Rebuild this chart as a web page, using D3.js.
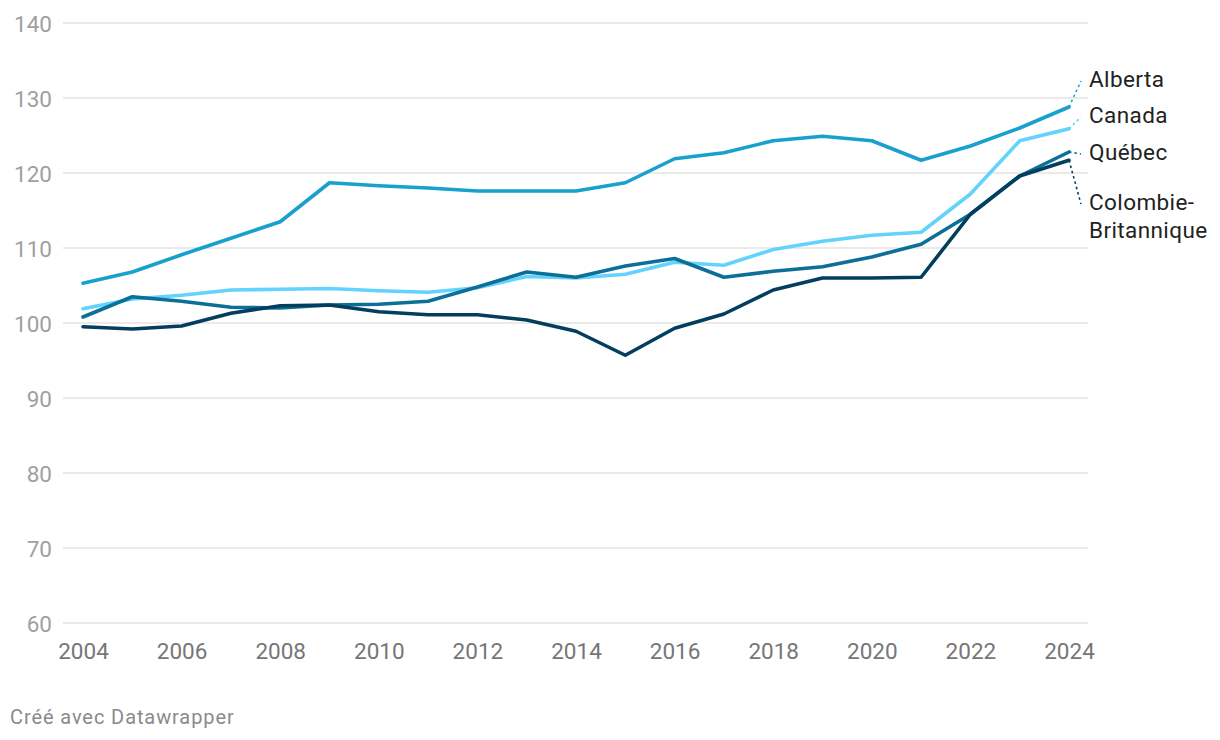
<!DOCTYPE html>
<html lang="fr">
<head>
<meta charset="UTF-8">
<title>Indice</title>
<script src="https://d3js.org/d3.v7.min.js"></script>
<style>
  body { margin: 0; background: #fff; font-family: Roboto, Arial, sans-serif; }
  .grid line { stroke: #e3e3e3; stroke-width: 1.5; }
  .ylab text { fill: #a0a0a0; font-size: 22.5px; }
  .series { fill: none; stroke-width: 3.6; stroke-linejoin: round; stroke-linecap: round; }
  .label { font-size: 22.5px; fill: #222; letter-spacing: 0.4px; }
  .credit { font-size: 20px; fill: #8a8a8a; letter-spacing: 0.9px; }
</style>
</head>
<body>
<svg id="chart" width="1220" height="740"></svg>
<script>
  // Données
  const years = d3.range(2004, 2025);
  const alberta = [105.3, 106.8, 109.1, 111.3, 113.5, 118.7, 118.3, 118.0, 117.6, 117.6, 117.6, 118.7, 121.9, 122.7, 124.3, 124.9, 124.3, 121.7, 123.6, 126.0, 128.8];
  const canada = [101.9, 103.2, 103.7, 104.4, 104.5, 104.6, 104.3, 104.1, 104.7, 106.2, 106.0, 106.5, 108.1, 107.7, 109.8, 110.9, 111.7, 112.1, 117.2, 124.3, 125.9];
  const quebec = [100.8, 103.5, 102.9, 102.1, 102.0, 102.4, 102.5, 102.9, 104.8, 106.8, 106.1, 107.6, 108.6, 106.1, 106.9, 107.5, 108.8, 110.5, 114.5, 119.6, 122.8];
  const cb = [99.5, 99.2, 99.6, 101.3, 102.3, 102.4, 101.5, 101.1, 101.1, 100.4, 98.9, 95.7, 99.3, 101.2, 104.4, 106.0, 106.0, 106.1, 114.5, 119.6, 121.7];
  const yTicks = [60, 70, 80, 90, 100, 110, 120, 130, 140];
  const xTicks = [2004, 2006, 2008, 2010, 2012, 2014, 2016, 2018, 2020, 2022, 2024];

  const series = [
    { name: ["Alberta"], values: alberta, color: "#18a1cd", ly: 87 },
    { name: ["Canada"], values: canada, color: "#63d3fd", ly: 123 },
    { name: ["Québec"], values: quebec, color: "#0b6f98", ly: 160 },
    { name: ["Colombie-", "Britannique"], values: cb, color: "#043e5f", ly: 210 }
  ];

  const svg = d3.select("#chart");
  const x = d3.scaleLinear().domain([2004, 2024]).range([83, 1069]);
  const y = d3.scaleLinear().domain([60, 140]).range([623, 23]);

  // Grille
  svg.append("g").attr("class", "grid")
    .selectAll("line").data(yTicks).join("line")
    .attr("x1", 63).attr("x2", 1088)
    .attr("y1", d => y(d)).attr("y2", d => y(d));

  // Axe Y
  svg.append("g").attr("class", "ylab")
    .selectAll("text").data(yTicks).join("text")
    .attr("x", 52).attr("y", d => y(d) + 8.5)
    .attr("text-anchor", "end")
    .text(d => d);

  // Axe X
  const xAxis = svg.append("g")
    .attr("transform", "translate(0,630)")
    .call(d3.axisBottom(x).tickValues(xTicks).tickFormat(d3.format("d")).tickSize(0).tickPadding(13));
  xAxis.select(".domain").remove();
  xAxis.selectAll("text").attr("fill", "#767676").style("font-size", "22.5px").style("font-family", "Roboto, Arial, sans-serif");

  const line = d3.line().x((d, i) => x(years[i])).y(d => y(d));

  svg.selectAll("path.series").data(series).join("path")
    .attr("class", "series")
    .attr("stroke", d => d.color)
    .attr("d", d => line(d.values));

  // Étiquettes
  series.forEach(s => {
    const last = s.values[s.values.length - 1];
    const ex = x(2024), ey = y(last);
    const tx = 1081, ty = s.ly - 6;
    svg.append("line")
      .attr("x1", ex).attr("y1", ey).attr("x2", tx).attr("y2", ty)
      .attr("stroke", s.color).attr("stroke-width", 1.6)
      .attr("stroke-dasharray", "2.5,3");
    s.name.forEach((n, i) => {
      svg.append("text").attr("class", "label")
        .attr("x", 1089).attr("y", s.ly + i * 28)
        .text(n);
    });
  });

  svg.append("text").attr("class", "credit")
    .attr("x", 10).attr("y", 724)
    .text("Créé avec Datawrapper");
</script>
</body>
</html>
